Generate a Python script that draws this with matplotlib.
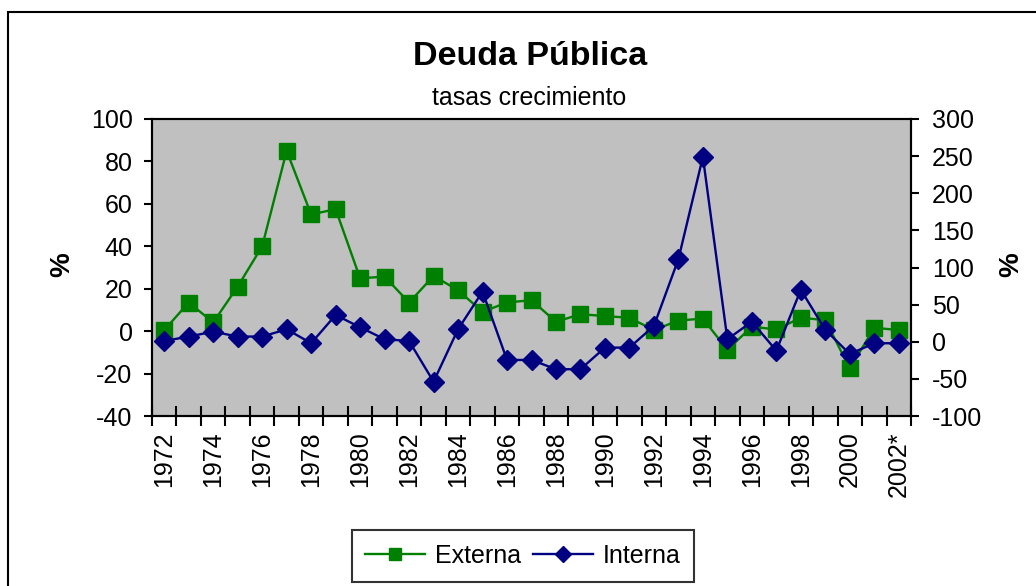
import matplotlib
matplotlib.use("Agg")
import matplotlib.pyplot as plt
from matplotlib.patches import Rectangle

plt.rcParams['font.family'] = ['Liberation Sans', 'DejaVu Sans']
plt.rcParams['axes.unicode_minus'] = False

years = [str(y) for y in range(1972, 2002)] + ["2002*"]
externa = [0.5, 13.5, 4.1, 21, 40, 85, 55, 57.5, 24.9, 25.7, 13.5, 26,
           19.3, 9.1, 13.5, 14.6, 4.4, 8.0, 7.1, 6.3, 0.5, 5.0,
           5.9, -8.8, 2.1, 0.8, 6.3, 5.2, -17.6, 1.6, 0.5]
interna = [1, 7, 13.6, 7, 7, 16.8, -2, 36, 19.5, 3.4, 1, -53.8,
           16.8, 67.5, -24.5, -24.5, -37, -37, -7.9, -7.9, 21.3, 111.2,
           249, 3.4, 27, -12, 70, 16, -16.5, -2, -2]

GREEN = '#008000'
NAVY = '#000080'
FS = 18

fig = plt.figure(figsize=(10.36, 5.86), dpi=100)
ax = fig.add_axes([152/1036, 1-416/586, (911-152)/1036, (416-119)/586])
ax2 = ax.twinx()

x = list(range(len(years)))
l1, = ax.plot(x, externa, color=GREEN, lw=1.7, marker='s', ms=11.5,
              markerfacecolor=GREEN, markeredgecolor=GREEN, zorder=3, label='Externa')
l2, = ax2.plot(x, interna, color=NAVY, lw=1.7, marker='D', ms=10,
               markerfacecolor=NAVY, markeredgecolor=NAVY, zorder=4, label='Interna')

ax.set_facecolor('#C0C0C0')
ax.set_xlim(-0.5, len(years) - 0.5)
ax.set_ylim(-40, 100)
ax.set_yticks(range(-40, 101, 20))
ax2.set_ylim(-100, 300)
ax2.set_yticks(range(-100, 301, 50))

# category boundary ticks
ax.set_xticks([i - 0.5 for i in range(len(years) + 1)])
ax.set_xticklabels([])
ax.tick_params(axis='x', which='major', direction='inout', length=14, width=1.5)
ax.set_xticks([i for i in range(0, len(years), 2)], minor=True)
ax.set_xticklabels([years[i] for i in range(0, len(years), 2)], minor=True,
                   rotation=90, fontsize=FS)
ax.tick_params(axis='x', which='minor', length=0, pad=11)

ax.tick_params(axis='y', direction='out', length=6, width=1.5, labelsize=FS, pad=8)
ax2.tick_params(axis='y', direction='out', length=6, width=1.5, labelsize=FS, pad=9)

for a in (ax, ax2):
    for s in a.spines.values():
        s.set_linewidth(1.5)
        s.set_color('black')

ax.set_zorder(ax2.get_zorder() - 1)
ax2.patch.set_visible(False)
ax.patch.set_visible(True)

fig.text(62/1036, 1-265/586, '%', rotation=90, fontsize=20, fontweight='bold',
         ha='center', va='center')
fig.text(1011/1036, 1-265/586, '%', rotation=90, fontsize=20, fontweight='bold',
         ha='center', va='center')

fig.text(530/1036, 1-65/586, 'Deuda Pública', fontsize=24.5, fontweight='bold',
         ha='center', va='baseline')
fig.text(529/1036, 1-105/586, 'tasas crecimiento', fontsize=18, ha='center',
         va='baseline')

# outer frame
fig.patches.append(Rectangle((8/1036, -0.1), 1.2, 1 - 12/586 + 0.1,
                             transform=fig.transFigure, fill=False,
                             edgecolor='black', lw=1.5))

leg = fig.legend([l1, l2], ['Externa', 'Interna'], loc='center',
                 bbox_to_anchor=(523/1036, 1-556/586), ncol=2, fontsize=FS,
                 frameon=True, fancybox=False, edgecolor='black',
                 handlelength=2.4, handletextpad=0.4, columnspacing=0.45,
                 markerscale=0.8, borderpad=0.55, borderaxespad=0)
leg.get_frame().set_linewidth(1.5)

fig.savefig('out.png', dpi=100)
